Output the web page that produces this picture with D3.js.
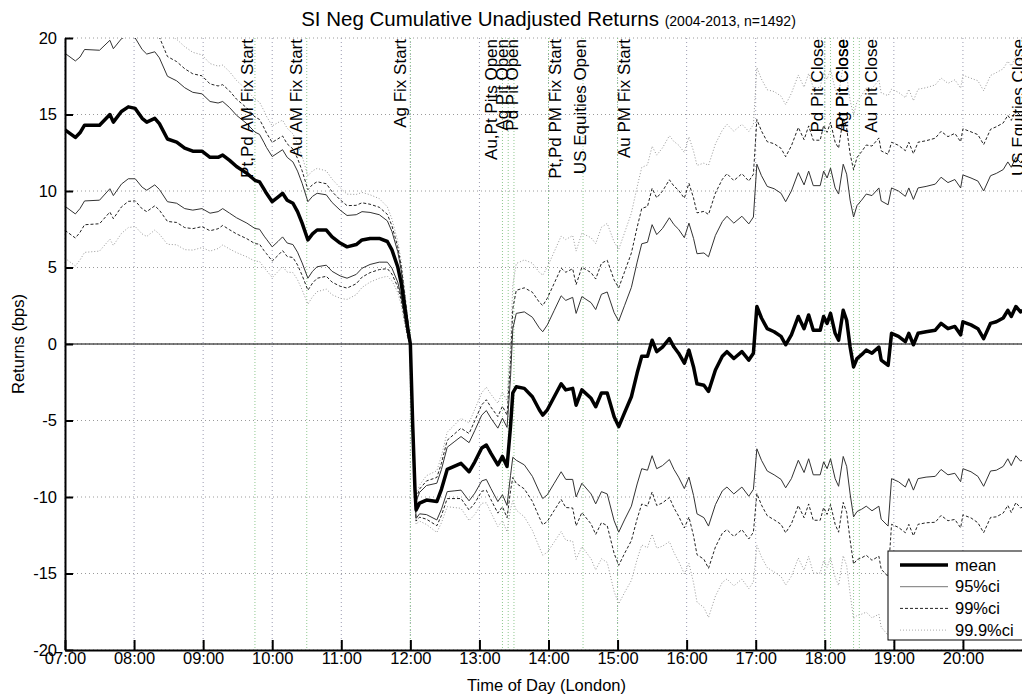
<!DOCTYPE html>
<html>
<head>
<meta charset="utf-8">
<script src="https://cdn.jsdelivr.net/npm/d3@7"></script>
<style>
  body { margin: 0; background: #fff; }
  svg { font-family: "Liberation Sans", Arial, sans-serif; display: block; }
</style>
</head>
<body>
<script>

// time of day (London) and cumulative mean return in bps
var times = ["07:00","07:09","07:13","07:17","07:30","07:39","07:42","07:49","07:55","08:01",
  "08:07","08:11","08:18","08:22","08:29","08:37","08:44","08:51","08:59","09:06",
  "09:13","09:17","09:23","09:29","09:38","09:45","09:49","09:53","09:55","10:00",
  "10:05","10:09","10:13","10:18","10:22","10:26","10:31","10:35","10:39","10:47",
  "10:52","10:59","11:05","11:13","11:18","11:25","11:33","11:40","11:44","11:49",
  "11:52","11:55","11:58","12:00","12:02","12:04","12:05","12:08","12:14","12:23",
  "12:27","12:32","12:38","12:44","12:51","12:56","13:02","13:06","13:10","13:16",
  "13:20","13:24","13:27","13:29","13:32","13:39","13:46","13:52","13:55","13:59",
  "14:05","14:11","14:15","14:21","14:24","14:29","14:37","14:41","14:46","14:51",
  "14:57","15:01","15:06","15:12","15:17","15:21","15:26","15:30","15:34","15:39",
  "15:45","15:49","15:53","15:58","16:02","16:06","16:09","16:15","16:19","16:25",
  "16:31","16:35","16:41","16:48","16:54","16:58","17:01","17:05","17:10","17:16",
  "17:22","17:26","17:31","17:37","17:42","17:46","17:50","17:56","17:59","18:02",
  "18:05","18:09","18:12","18:16","18:19","18:22","18:25","18:28","18:32","18:36",
  "18:41","18:47","18:49","18:55","18:58","19:04","19:10","19:13","19:17","19:21",
  "19:28","19:36","19:41","19:47","19:53","19:58","20:00","20:07","20:13","20:18",
  "20:24","20:29","20:35","20:39","20:42","20:46","20:50","20:55","21:00"];

var meanRet = [14.0,13.5,13.8,14.3,14.3,15.0,14.5,15.2,15.5,15.4,
  14.75,14.5,14.75,14.4,13.4,13.2,12.8,12.6,12.6,12.2,
  12.2,12.35,12.0,11.6,11.15,10.7,10.6,10.1,9.85,9.3,
  9.6,9.85,9.4,9.2,8.65,7.9,6.8,7.2,7.45,7.45,
  7.0,6.6,6.35,6.5,6.8,6.9,6.9,6.7,6.15,5.05,
  4.0,2.45,0.9,0.0,-5.2,-9.5,-10.85,-10.4,-10.2,-10.3,
  -9.5,-8.2,-8.0,-7.8,-8.35,-7.7,-6.8,-6.6,-7.15,-7.9,
  -7.35,-8.0,-5.4,-3.2,-2.8,-2.9,-3.45,-4.3,-4.65,-4.3,
  -3.45,-2.6,-3.0,-2.9,-4.0,-3.0,-3.55,-4.1,-3.2,-3.2,
  -4.75,-5.4,-4.5,-3.45,-1.9,-0.8,-0.8,0.25,-0.5,-0.2,
  0.35,-0.2,-0.6,-1.25,-0.4,-1.5,-2.6,-2.7,-3.1,-1.7,
  -0.8,-0.5,-0.95,-0.5,-1.05,-0.6,2.45,1.7,1.0,0.8,
  0.5,-0.05,0.6,1.8,1.0,1.9,0.9,0.9,1.8,1.35,
  2.0,0.7,0.25,2.2,1.55,-0.2,-1.5,-0.95,-0.7,-0.4,
  -0.6,-0.2,-1.05,-1.4,0.7,0.5,0.15,0.7,-0.05,0.7,
  0.8,0.9,1.35,1.0,1.15,0.6,1.45,1.25,1.0,0.35,
  1.35,1.45,1.7,2.2,1.8,2.45,2.1,2.3,2.0];

// half width of the 95% band, bps
var halfWidth95 = [5.0,5.0,4.95,4.95,4.9,4.85,4.8,4.75,4.7,4.6,
  4.5,4.45,4.35,4.3,4.1,4.0,3.95,3.85,3.75,3.65,
  3.55,3.5,3.45,3.35,3.25,3.15,3.1,3.05,3.0,2.95,
  2.9,2.85,2.8,2.7,2.65,2.6,2.5,2.45,2.4,2.3,
  2.25,2.15,2.05,1.95,1.85,1.7,1.55,1.35,1.2,1.0,
  0.85,0.65,0.4,0.0,0.3,0.45,0.55,0.7,0.95,1.2,
  1.3,1.45,1.6,1.75,1.9,2.05,2.15,2.25,2.3,2.4,
  2.5,2.55,3.2,4.2,4.8,5.0,5.2,5.35,5.45,5.55,
  5.65,5.75,5.85,5.95,6.0,6.1,6.25,6.35,6.45,6.6,
  6.8,6.9,7.0,7.15,7.25,7.35,7.45,7.55,7.65,7.75,
  7.9,8.0,8.1,8.2,8.3,8.4,8.5,8.65,8.8,8.8,
  8.8,8.85,8.85,8.85,8.9,8.9,9.3,9.3,9.3,9.35,
  9.35,9.35,9.4,9.4,9.4,9.4,9.45,9.45,9.5,9.5,
  9.5,9.5,9.55,9.55,9.55,9.6,9.8,10.0,10.1,10.2,
  10.3,10.4,10.4,10.5,9.5,9.5,9.5,9.5,9.5,9.5,
  9.5,9.55,9.55,9.55,9.6,9.6,9.6,9.6,9.65,9.65,
  9.65,9.7,9.7,9.7,9.75,9.75,9.75,9.8,9.8];

var ciNames = ["95%ci", "99%ci", "99.9%ci"];
var zScores = [1.96, 2.576, 3.291];

var eventNames = ["Pt,Pd AM Fix Start","Au AM Fix Start","Ag Fix Start","Au,Pt Pits Open",
  "Ag Pit Open","Pd Pit Open","Pt,Pd PM Fix Start","US Equities Open","Au PM Fix Start",
  "Pd Pit Close","Pt Pit Close","Ag Pit Close","Au Pit Close","US Equities Close"];
var eventTimes = ["09:45","10:30","12:00","13:20","13:25","13:30","14:00","14:30","15:00",
  "18:00","18:05","18:25","18:30","21:00"];
var labelTimes = ["09:38","10:21","11:51","13:10","13:20","13:28","14:06","14:27","15:06",
  "17:53","18:15","18:15","18:40","20:48"];

var yTicks = [-20, -15, -10, -5, 0, 5, 10, 15, 20];
var xTicks = ["07:00","08:00","09:00","10:00","11:00","12:00","13:00","14:00",
  "15:00","16:00","17:00","18:00","19:00","20:00"];

draw();

function draw() {
  var parse = d3.timeParse("%H:%M");
  var W = 1022, H = 695;
  var mLeft = 65, mRight = 1032, mTop = 38, mBottom = 650;

  var svg = d3.select("body").append("svg").attr("width", W).attr("height", H);

  var x = d3.scaleTime().domain([parse("07:00"), parse("21:00")]).range([mLeft, mRight]);
  var y = d3.scaleLinear().domain([-20, 20]).range([mBottom, mTop]);
  var xTickDates = xTicks.map(parse);

  var meanData = times.map(function(t, i) { return {t: parse(t), v: meanRet[i]}; });

  svg.append("clipPath").attr("id", "plotclip")
    .append("rect").attr("x", mLeft).attr("y", mTop)
    .attr("width", mRight - mLeft).attr("height", mBottom - mTop);

  //grid
  var grid = svg.append("g");
  grid.selectAll("line.hg").data(yTicks).enter().append("line")
    .attr("x1", mLeft).attr("x2", mRight)
    .attr("y1", function(d) { return y(d); }).attr("y2", function(d) { return y(d); })
    .attr("stroke", "#9a9a9a").attr("stroke-width", 1).attr("stroke-dasharray", "1,3");
  grid.selectAll("line.vg").data(xTickDates).enter().append("line")
    .attr("x1", function(d) { return x(d); }).attr("x2", function(d) { return x(d); })
    .attr("y1", mTop).attr("y2", mBottom)
    .attr("stroke", "#9a9ab0").attr("stroke-width", 1).attr("stroke-dasharray", "1,3");

  // event markers
  grid.selectAll("line.ev").data(eventTimes).enter().append("line")
    .attr("x1", function(d) { return x(parse(d)); }).attr("x2", function(d) { return x(parse(d)); })
    .attr("y1", mTop).attr("y2", mBottom)
    .attr("stroke", "#8fc88f").attr("stroke-width", 1).attr("stroke-dasharray", "1,2");

  // zero line
  svg.append("line").attr("x1", mLeft).attr("x2", mRight).attr("y1", y(0)).attr("y2", y(0))
    .attr("stroke", "#000").attr("stroke-width", 1);

  var line = d3.line()
    .x(function(d) { return x(d.t); })
    .y(function(d) { return y(d.v); });

  var styles = [
    {stroke: "#333", dash: null, width: 1},
    {stroke: "#222", dash: "3,2", width: 1},
    {stroke: "#999", dash: "1,2", width: 1}
  ];

  var plot = svg.append("g").attr("clip-path", "url(#plotclip)");

  // bands, widest first
  for (var k = ciNames.length - 1; k >= 0; k--) {
    var mult = zScores[k] / 1.96;
    [1, -1].forEach(function(sign) {
      var band = times.map(function(t, i) {
        return {t: parse(t), v: meanRet[i] + sign * halfWidth95[i] * mult};
      });
      plot.append("path").datum(band)
        .attr("d", line)
        .attr("fill", "none")
        .attr("stroke", styles[k].stroke)
        .attr("stroke-width", styles[k].width)
        .attr("stroke-dasharray", styles[k].dash);
    });
  }

  plot.append("path").datum(meanData)
    .attr("d", line)
    .attr("fill", "none")
    .attr("stroke", "#000")
    .attr("stroke-width", 3.5)
    .attr("stroke-linejoin", "round");

  // axes, ticks pointing inward
  var xAxis = d3.axisBottom(x).tickValues(xTickDates).tickFormat(d3.timeFormat("%H:%M"))
    .tickSizeInner(-10).tickSizeOuter(0).tickPadding(2);
  var yAxis = d3.axisLeft(y).tickValues(yTicks).tickFormat(function(d) { return String(d); })
    .tickSizeInner(-8).tickSizeOuter(0).tickPadding(8);

  var gx = svg.append("g").attr("transform", "translate(0," + mBottom + ")").call(xAxis);
  var gy = svg.append("g").attr("transform", "translate(" + mLeft + ",0)").call(yAxis);
  [gx, gy].forEach(function(g) {
    g.select(".domain").attr("stroke", "#000").attr("stroke-width", 2);
    g.selectAll(".tick line").attr("stroke", "#000").attr("stroke-width", 2);
    g.selectAll(".tick text").attr("font-size", "16.5px").attr("fill", "#000")
      .attr("font-family", "Liberation Sans, Arial, sans-serif");
  });

  // event labels
  svg.append("g").selectAll("text").data(eventNames).enter().append("text")
    .attr("transform", function(d, i) {
      return "translate(" + x(parse(labelTimes[i])) + "," + (mTop + 1) + ") rotate(-90)";
    })
    .attr("text-anchor", "end")
    .attr("dy", "0.35em")
    .attr("font-size", "17px")
    .text(function(d) { return d; });

  // titles
  var title = svg.append("text").attr("x", (mLeft + mRight) / 2).attr("y", 26)
    .attr("text-anchor", "middle");
  title.append("tspan").attr("font-size", "20.5px").text("SI Neg Cumulative Unadjusted Returns ");
  title.append("tspan").attr("font-size", "14px").text("(2004-2013, n=1492)");

  svg.append("text").attr("x", (mLeft + mRight) / 2 - 2).attr("y", 691)
    .attr("text-anchor", "middle").attr("font-size", "16.5px").text("Time of Day (London)");

  svg.append("text").attr("transform", "translate(24," + y(0) + ") rotate(-90)")
    .attr("text-anchor", "middle").attr("font-size", "16.5px").text("Returns (bps)");

  // legend
  var legendNames = ["mean"].concat(ciNames);
  var legendStyles = [
    {stroke: "#000", dash: null, width: 3.5},
    {stroke: "#777", dash: null, width: 1},
    {stroke: "#222", dash: "3,2", width: 1},
    {stroke: "#aaa", dash: "1,2", width: 1}
  ];
  var legend = svg.append("g").attr("transform", "translate(888,551)");
  legend.append("rect").attr("width", 150).attr("height", 89)
    .attr("fill", "#fff").attr("stroke", "#000").attr("stroke-width", 1);
  var rows = legend.selectAll("g").data(legendNames).enter().append("g")
    .attr("transform", function(d, i) { return "translate(0," + (14 + i * 21.7) + ")"; });
  rows.append("line").attr("x1", 12).attr("x2", 60)
    .attr("stroke", function(d, i) { return legendStyles[i].stroke; })
    .attr("stroke-width", function(d, i) { return legendStyles[i].width; })
    .attr("stroke-dasharray", function(d, i) { return legendStyles[i].dash; });
  rows.append("text").attr("x", 67).attr("dy", "0.35em").attr("font-size", "16.5px")
    .text(function(d) { return d; });
}

</script>
</body>
</html>
